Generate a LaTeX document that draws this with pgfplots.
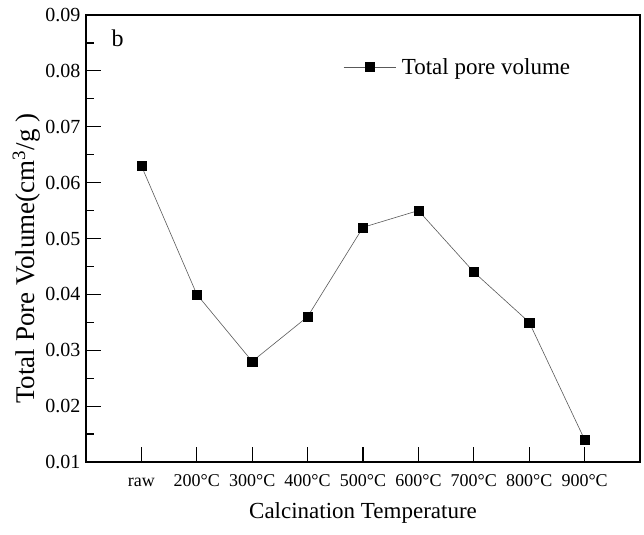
\documentclass[border=0pt]{standalone}
\usepackage{fontspec}
\setmainfont{Liberation Serif}
\usepackage{pgfplots}
\pgfplotsset{compat=1.18}
\begin{document}
\begin{tikzpicture}
\begin{axis}[
  scale only axis,
  axis on top,
  width=554bp, height=447bp,
  xmin=-1, xmax=9, ymin=0.01, ymax=0.09,
  xtick={0,1,2,3,4,5,6,7,8},
  xticklabels={raw,200°C,300°C,400°C,500°C,600°C,700°C,800°C,900°C},
  ytick={0.01,0.02,0.03,0.04,0.05,0.06,0.07,0.08,0.09},
  minor y tick num=1,
  tick align=inside,
  xtick pos=left, ytick pos=left,
  major tick length=15bp, minor tick length=8bp,
  axis line style={line width=1.3pt},
  every major tick/.style={line width=1.2pt, black},
  every minor tick/.style={line width=1.2pt, black},
  /pgf/number format/assume math mode=true,
  yticklabel style={/pgf/number format/fixed, /pgf/number format/precision=2, /pgf/number format/fixed zerofill, font=\fontsize{20bp}{22bp}\selectfont, xshift=-2bp},
  xticklabel style={font=\fontsize{18bp}{20bp}\selectfont, anchor=base, yshift=-25bp},
  scaled y ticks=false,
  xlabel={Calcination Temperature},
  ylabel={Total Pore Volume(cm\textsuperscript{3}/g )},
  xlabel style={font=\fontsize{23bp}{25bp}\selectfont, at={(rel axis cs:0.5,-0.114)}, anchor=center},
  ylabel style={font=\fontsize{27bp}{29bp}\selectfont, at={(rel axis cs:-0.108,0.455)}, anchor=center},
  legend style={draw=none, fill=none, at={(rel axis cs:0.464,0.884)}, anchor=west, inner sep=0pt, font=\fontsize{23bp}{25bp}\selectfont, nodes={inner xsep=6bp}},
  legend cell align=left,
  legend image code/.code={\draw[mark repeat=2,mark phase=2,#1] plot coordinates {(0bp,0bp)(26bp,0bp)(52bp,0bp)};},
]
\coordinate (ll) at (rel axis cs:0,0);
\coordinate (ur) at (rel axis cs:1,1);
\addplot[color=black!65, line width=0.6pt, mark=square*, mark size=4.6bp, mark options={fill=black, draw=black, line width=0.4pt, solid}]
coordinates {(0,0.063)(1,0.040)(2,0.028)(3,0.036)(4,0.052)(5,0.055)(6,0.044)(7,0.035)(8,0.014)};
\addlegendentry{Total pore volume}
\node[anchor=center, font=\fontsize{24bp}{26bp}\selectfont] at (rel axis cs:0.057,0.947) {b};
\end{axis}
\pgfresetboundingbox
\path ([shift={(-86bp,-73bp)}]ll) rectangle ([shift={(4bp,15bp)}]ur);
\end{tikzpicture}
\end{document}
